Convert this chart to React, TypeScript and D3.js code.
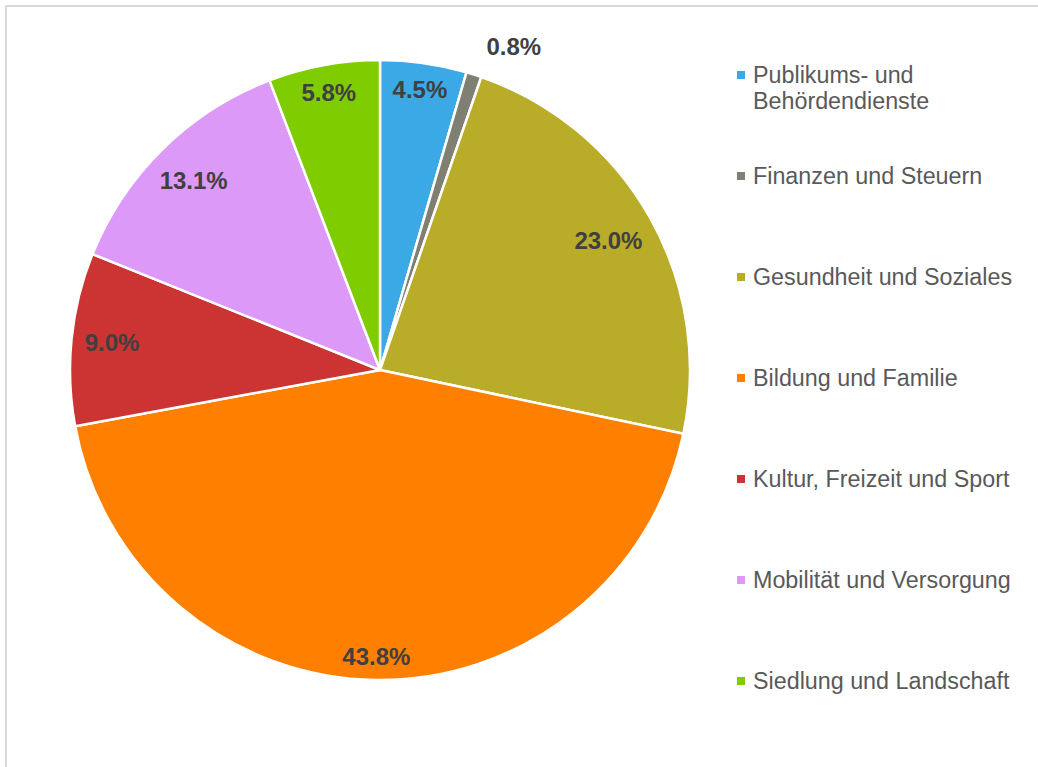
import React from "react";
import * as d3 from "d3";

const categories = [
  "Publikums- und Behördendienste",
  "Finanzen und Steuern",
  "Gesundheit und Soziales",
  "Bildung und Familie",
  "Kultur, Freizeit und Sport",
  "Mobilität und Versorgung",
  "Siedlung und Landschaft",
];
const legendLines = [
  ["Publikums- und", "Behördendienste"],
  ["Finanzen und Steuern"],
  ["Gesundheit und Soziales"],
  ["Bildung und Familie"],
  ["Kultur, Freizeit und Sport"],
  ["Mobilität und Versorgung"],
  ["Siedlung und Landschaft"],
];
const values = [4.5, 0.8, 23.0, 43.8, 9.0, 13.1, 5.8];
const colors = ["#3BA9E5", "#7F7F74", "#B8AC28", "#FF8000", "#CC3333", "#DD99F7", "#7FCC00"];

const W = 1038;
const H = 767;
const cx = 380;
const cy = 370;
const R = 310;
const labelFont = 24;
const legendFont = 23.3;

export default function App() {
  const pie = d3.pie<number>().sort(null).value((d) => d)(values);
  const arc = d3.arc<d3.PieArcDatum<number>>().innerRadius(0).outerRadius(R);
  const fmt = d3.format(".1f");

  const labels = pie.map((p, i) => {
    const text = fmt(values[i]) + "%";
    const a = (p.startAngle + p.endAngle) / 2;
    const hw = (text.length * 0.6 * labelFont) / 2 - 2;
    const hh = 10;
    const s = Math.sin(a);
    const c = -Math.cos(a);
    const ext = hw * Math.abs(s) + hh * Math.abs(c);
    let d: number;
    let ang = a;
    if (values[i] < 2) {
      d = R + 22 + ext;
      ang = a + 0.085;
    } else {
      d = R - 13 - ext;
    }
    return { text, x: cx + d * Math.sin(ang), y: cy - d * Math.cos(ang) };
  });

  const legendX = 737;
  const legendY0 = 75;
  const legendStep = 101;
  const lineH = 26;

  return (
    <svg
      width={W}
      height={H}
      style={{ position: "fixed", left: 0, top: 0, background: "#fff" }}
      fontFamily="'Liberation Sans', Arial, sans-serif"
    >
      <rect x={6} y={6} width={W} height={H} fill="#fff" stroke="#D9D9D9" strokeWidth={2} />
      <g transform={`translate(${cx},${cy})`}>
        {pie.map((p, i) => (
          <path key={i} d={arc(p) || ""} fill={colors[i]} stroke="#fff" strokeWidth={2.5} strokeLinejoin="round" />
        ))}
      </g>
      {labels.map((l, i) => (
        <text
          key={i}
          x={l.x}
          y={l.y}
          textAnchor="middle"
          dominantBaseline="central"
          fontSize={labelFont}
          fontWeight="bold"
          fill="#404040"
        >
          {l.text}
        </text>
      ))}
      {categories.map((c, i) => {
        const y = legendY0 + i * legendStep;
        return (
          <g key={c}>
            <rect x={legendX} y={y - 4} width={8} height={8} fill={colors[i]} />
            {legendLines[i].map((ln, j) => (
              <text
                key={j}
                x={legendX + 16}
                y={y + j * lineH}
                dominantBaseline="central"
                fontSize={legendFont}
                fill="#595959"
              >
                {ln}
              </text>
            ))}
          </g>
        );
      })}
    </svg>
  );
}
